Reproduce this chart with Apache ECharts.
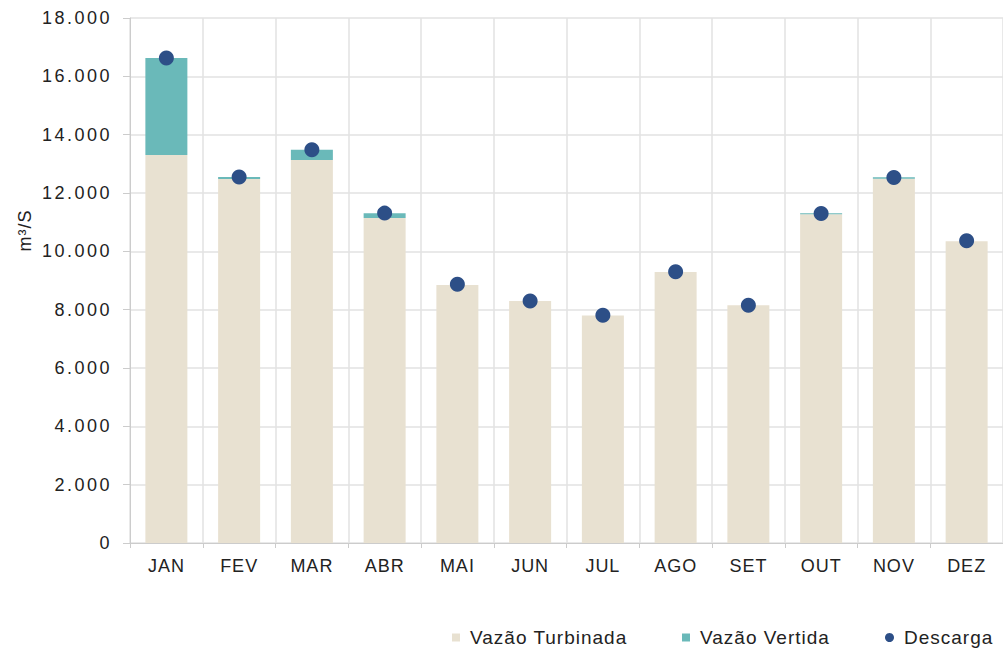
<!DOCTYPE html>
<html>
<head>
<meta charset="utf-8">
<script src="https://cdn.jsdelivr.net/npm/echarts@6/dist/echarts.min.js"></script>
<style>
  html, body { margin: 0; padding: 0; background: #fff; }
  #chart { width: 1003px; height: 650px; }
  /* o original tem o texto um pouco espacado */
  #chart text { letter-spacing: 1px; }
  #chart text[text-anchor="end"] { letter-spacing: 2.5px; }
</style>
</head>
<body>
<div id="chart"></div>
<script>
// meses
const months = ['JAN', 'FEV', 'MAR', 'ABR', 'MAI', 'JUN', 'JUL', 'AGO', 'SET', 'OUT', 'NOV', 'DEZ']
// m3/s
const turbinada = [13300, 12480, 13130, 11140, 8850, 8300, 7800, 9290, 8150, 11270, 12490, 10350]
const vertida = [3330, 70, 350, 170, 0, 0, 0, 0, 0, 35, 50, 0]
const descarga = [16630, 12550, 13480, 11310, 8870, 8300, 7810, 9300, 8150, 11300, 12530, 10360]

const beige = '#e8e1d1'
const teal = '#6ab9b9'
const navy = '#2d4f87'
const gridColor = '#e2e2e2'
const axisColor = '#cccccc'
const font = 'Liberation Sans'

// 18000 -> 18.000
function fmt (v) {
  return String(v).replace(/\B(?=(\d{3})+(?!\d))/g, '.')
}

const chart = echarts.init(document.getElementById('chart'), null, { renderer: 'svg' })

const legendText = {
  fontFamily: font,
  fontSize: 19,
  color: '#222',
  padding: [0, 0, 0, 5]
}

const option = {
  animation: false,
  grid: {
    left: 130,
    right: -4,
    top: 18,
    bottom: 107
  },
  legend: [
    {
      data: [{ name: 'Vazão Turbinada', icon: 'rect' }],
      left: 447,
      top: 623,
      itemWidth: 8,
      itemHeight: 8,
      textStyle: legendText
    },
    {
      data: [{ name: 'Vazão Vertida', icon: 'rect' }],
      left: 677,
      top: 623,
      itemWidth: 8,
      itemHeight: 8,
      textStyle: legendText
    },
    {
      data: [{ name: 'Descarga', icon: 'circle' }],
      left: 880,
      top: 623,
      itemWidth: 9,
      itemHeight: 9,
      textStyle: legendText
    }
  ],
  xAxis: {
    type: 'category',
    data: months,
    axisLine: { lineStyle: { color: axisColor } },
    axisTick: { show: true, length: 5, lineStyle: { color: axisColor } },
    splitLine: { show: true, lineStyle: { color: gridColor, width: 1.5 } },
    axisLabel: {
      margin: 14,
      fontFamily: font,
      fontSize: 18,
      color: '#222'
    }
  },
  yAxis: {
    type: 'value',
    min: 0,
    max: 18000,
    interval: 2000,
    name: 'm³/S',
    nameLocation: 'middle',
    nameGap: 96,
    nameTextStyle: {
      fontFamily: font,
      fontSize: 18,
      color: '#222',
      padding: [0, 0, 0, 100]
    },
    axisLine: { show: true, lineStyle: { color: axisColor } },
    axisTick: { show: true, length: 7, lineStyle: { color: axisColor } },
    splitLine: { lineStyle: { color: gridColor, width: 1.5 } },
    axisLabel: {
      margin: 18,
      fontFamily: font,
      fontSize: 18,
      color: '#222',
      formatter: fmt
    }
  },
  series: [
    {
      name: 'Vazão Turbinada',
      type: 'bar',
      stack: 'vazao',
      barWidth: 42,
      data: turbinada,
      itemStyle: { color: beige }
    },
    {
      name: 'Vazão Vertida',
      type: 'bar',
      stack: 'vazao',
      barWidth: 42,
      data: vertida,
      itemStyle: { color: teal }
    },
    {
      name: 'Descarga',
      type: 'scatter',
      symbolSize: 15,
      data: descarga,
      itemStyle: { color: navy, opacity: 1 },
      z: 5
    }
  ]
}

chart.setOption(option)
</script>
</body>
</html>
